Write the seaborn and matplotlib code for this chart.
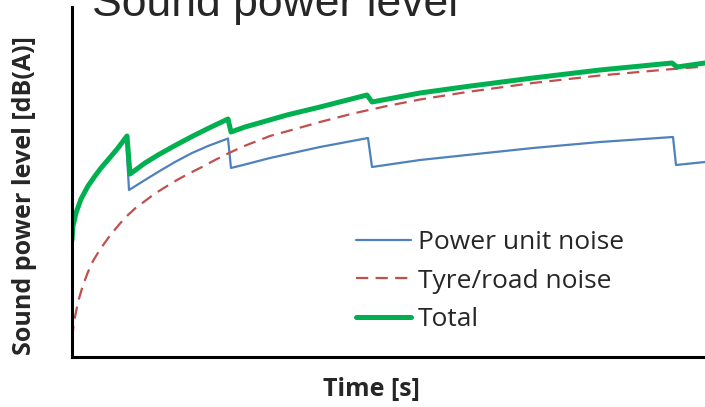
import matplotlib
matplotlib.use("Agg")
import matplotlib.pyplot as plt
import seaborn as sns
import pandas as pd

# ---- data ----
power_t = [0.0, 0.1, 0.4, 0.9, 1.6, 2.3, 2.9, 3.8, 4.6, 5.4, 5.7, 7.3, 8.6, 10.3, 12.0,
           13.6, 15.6, 15.9, 17.3, 19.8, 24.8, 29.6, 30.0, 34.8, 39.5, 46.1, 52.8,
           60.1, 60.4, 63.3]
power_L = [71.7, 73.1, 74.4, 75.8, 77.1, 78.1, 78.9, 79.95, 80.85, 81.9, 76.7, 77.7, 78.5, 79.5, 80.4,
           81.1, 81.85, 78.9, 79.25, 79.9, 81.0, 81.9, 79.0, 79.7, 80.2, 80.9, 81.5,
           82.0, 79.2, 79.5]

tyre_t = [0.0, 0.2, 0.6, 1.1, 1.6, 2.1, 2.8, 3.8, 4.8, 5.6, 6.3, 7.3, 8.1, 9.1, 10.5, 11.6,
          13.0, 14.3, 15.6, 17.1, 19.8, 22.5, 24.8, 28.1, 31.5, 34.8, 39.5, 46.1,
          52.8, 59.5, 63.3]
tyre_L = [61.9, 63.5, 65.5, 67.2, 68.5, 69.6, 70.75, 72.15, 73.35, 74.2, 74.85, 75.6, 76.2, 76.85, 77.7, 78.3,
          79.0, 79.7, 80.35, 81.05, 82.1, 82.85, 83.5, 84.35, 85.1, 85.75, 86.5, 87.4,
          88.15, 88.75, 89.05]

total_t = [0.0, 0.1, 0.4, 0.9, 1.6, 2.3, 2.9, 3.8, 4.6, 5.5, 5.8, 7.3, 8.6, 10.3, 12.0,
           13.6, 15.6, 15.9, 17.3, 21.5, 24.8, 29.5, 30.0, 34.8, 39.5, 46.1, 52.8,
           60.0, 60.5, 63.3]
total_L = [71.7, 73.1, 74.4, 75.8, 77.1, 78.1, 78.9, 79.95, 80.9, 82.1, 78.3, 79.4, 80.2, 81.15, 82.05,
           82.85, 83.8, 82.5, 83.0, 84.2, 85.0, 86.2, 85.5, 86.4, 87.05, 87.9, 88.7,
           89.4, 89.0, 89.4]

labels = ["Power unit noise", "Tyre/road noise", "Total"]
title = "Sound power level"
xlabel = "Time [s]"
ylabel = "Sound power level [dB(A)]"

sns.set_style("white")
plt.rcParams["font.family"] = ["Open Sans", "DejaVu Sans"]

W, H = 705, 407
fig = plt.figure(figsize=(W / 100, H / 100), dpi=100)
ax = fig.add_axes([72 / W, (H - 357) / H, (W - 72) / W, (357 - 7) / H])

df_p = pd.DataFrame({"t": power_t, "L": power_L})
df_r = pd.DataFrame({"t": tyre_t, "L": tyre_L})
df_g = pd.DataFrame({"t": total_t, "L": total_L})

common = dict(ax=ax, sort=False, estimator=None, solid_joinstyle="round",
              solid_capstyle="round")
sns.lineplot(data=df_p, x="t", y="L", color="#4F81BD", lw=1.6,
             label=labels[0], **common)
sns.lineplot(data=df_r, x="t", y="L", color="#C0504D", lw=1.6,
             label=labels[1], linestyle=(0, (5.5, 3.3)), ax=ax, sort=False,
             estimator=None, dash_joinstyle="round")
sns.lineplot(data=df_g, x="t", y="L", color="#00B050", lw=3.6,
             label=labels[2], **common)

ax.set_xlim(0, 63.3)
ax.set_ylim(60, 95)
ax.set_xticks([])
ax.set_yticks([])
ax.set_xlabel("")
ax.set_ylabel("")
for s in ["top", "right"]:
    ax.spines[s].set_visible(False)
for s in ["left", "bottom"]:
    ax.spines[s].set_color("black")
    ax.spines[s].set_linewidth(2.2)

leg = ax.legend(loc="center left", bbox_to_anchor=(356 / W, 1 - 281 / H),
                bbox_transform=fig.transFigure, frameon=False, fontsize=19,
                handlelength=2.1, handletextpad=0.25, labelspacing=0.52,
                borderpad=0, borderaxespad=0)

fig.text(92 / W, 1 - 16 / H, title, fontsize=32, family="Liberation Sans",
         ha="left", va="baseline")
fig.text(371 / W, 1 - 389 / H, xlabel, fontsize=18, fontweight="bold",
         ha="center", va="center")
fig.text(25 / W, 1 - 196 / H, ylabel, fontsize=18, fontweight="bold",
         ha="center", va="center", rotation=90)

fig.savefig("out.png", dpi=100)
